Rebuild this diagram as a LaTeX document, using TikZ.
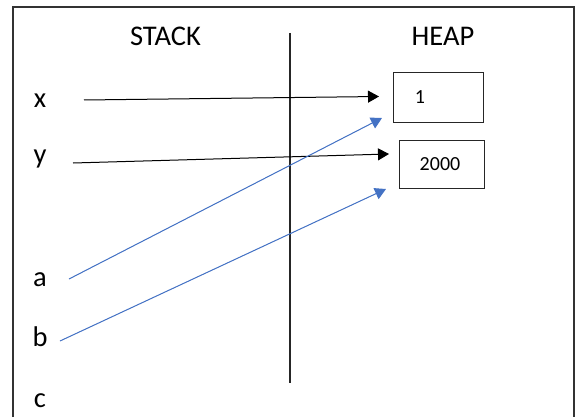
\documentclass[tikz,border=0pt]{standalone}
\usepackage{fontspec}
\setmainfont{Carlito}
\usetikzlibrary{arrows.meta}
\definecolor{refblue}{HTML}{4472C4}
\begin{document}
\begin{tikzpicture}[x=1pt,y=-1pt,
  lbl/.style={font=\fontsize{28.5}{32}\selectfont, anchor=base, inner sep=0pt},
  val/.style={font=\fontsize{20}{24}\selectfont, anchor=base, inner sep=0pt},
  cell/.style={draw=black!85, line width=1pt, inner sep=0pt},
  ptr/.style={line width=1pt, -{Triangle[length=11pt,width=12pt]}},
  ref/.style={ptr, draw=refblue, fill=refblue}]
\useasboundingbox (0,0) rectangle (580,417);

% frame (open at the bottom) and the stack/heap divider
\draw[line width=1.2pt, black!80] (13,417) -- (13,7) -- (574,7) -- (574,417);
\draw[line width=1.2pt, black!85] (290,33) -- (290,383);

% headings
\node[lbl] (stack) at (165.5,46) {STACK};
\node[lbl] (heap) at (443,46) {HEAP};

% variables
\node[lbl] (vx) at (40,107) {x};
\node[lbl] (vy) at (40,163) {y};
\node[lbl] (va) at (40,286) {a};
\node[lbl] (vb) at (40,346) {b};
\node[lbl] (vc) at (40,407) {c};

% heap cells
\node[cell, minimum width=90pt, minimum height=49pt] (box1) at (438,97.5) {};
\node[cell, minimum width=85pt, minimum height=48pt] (box2) at (441.5,164) {};
\node[val] (one) at (420,103) {1};
\node[val] (twok) at (440,170) {2000};

% pointer ends
\coordinate (xs) at (84,100);
\coordinate (xe) at (379,96.5);
\coordinate (ys) at (73,163);
\coordinate (ye) at (389,154);
\coordinate (as) at (69,279);
\coordinate (ae) at (382,118);
\coordinate (bs) at (60,341);
\coordinate (be) at (386,189);

\draw[ptr] (xs) -- (xe);
\draw[ptr] (ys) -- (ye);
\draw[ref] (as) -- (ae);
\draw[ref] (bs) -- (be);
\end{tikzpicture}
\end{document}
